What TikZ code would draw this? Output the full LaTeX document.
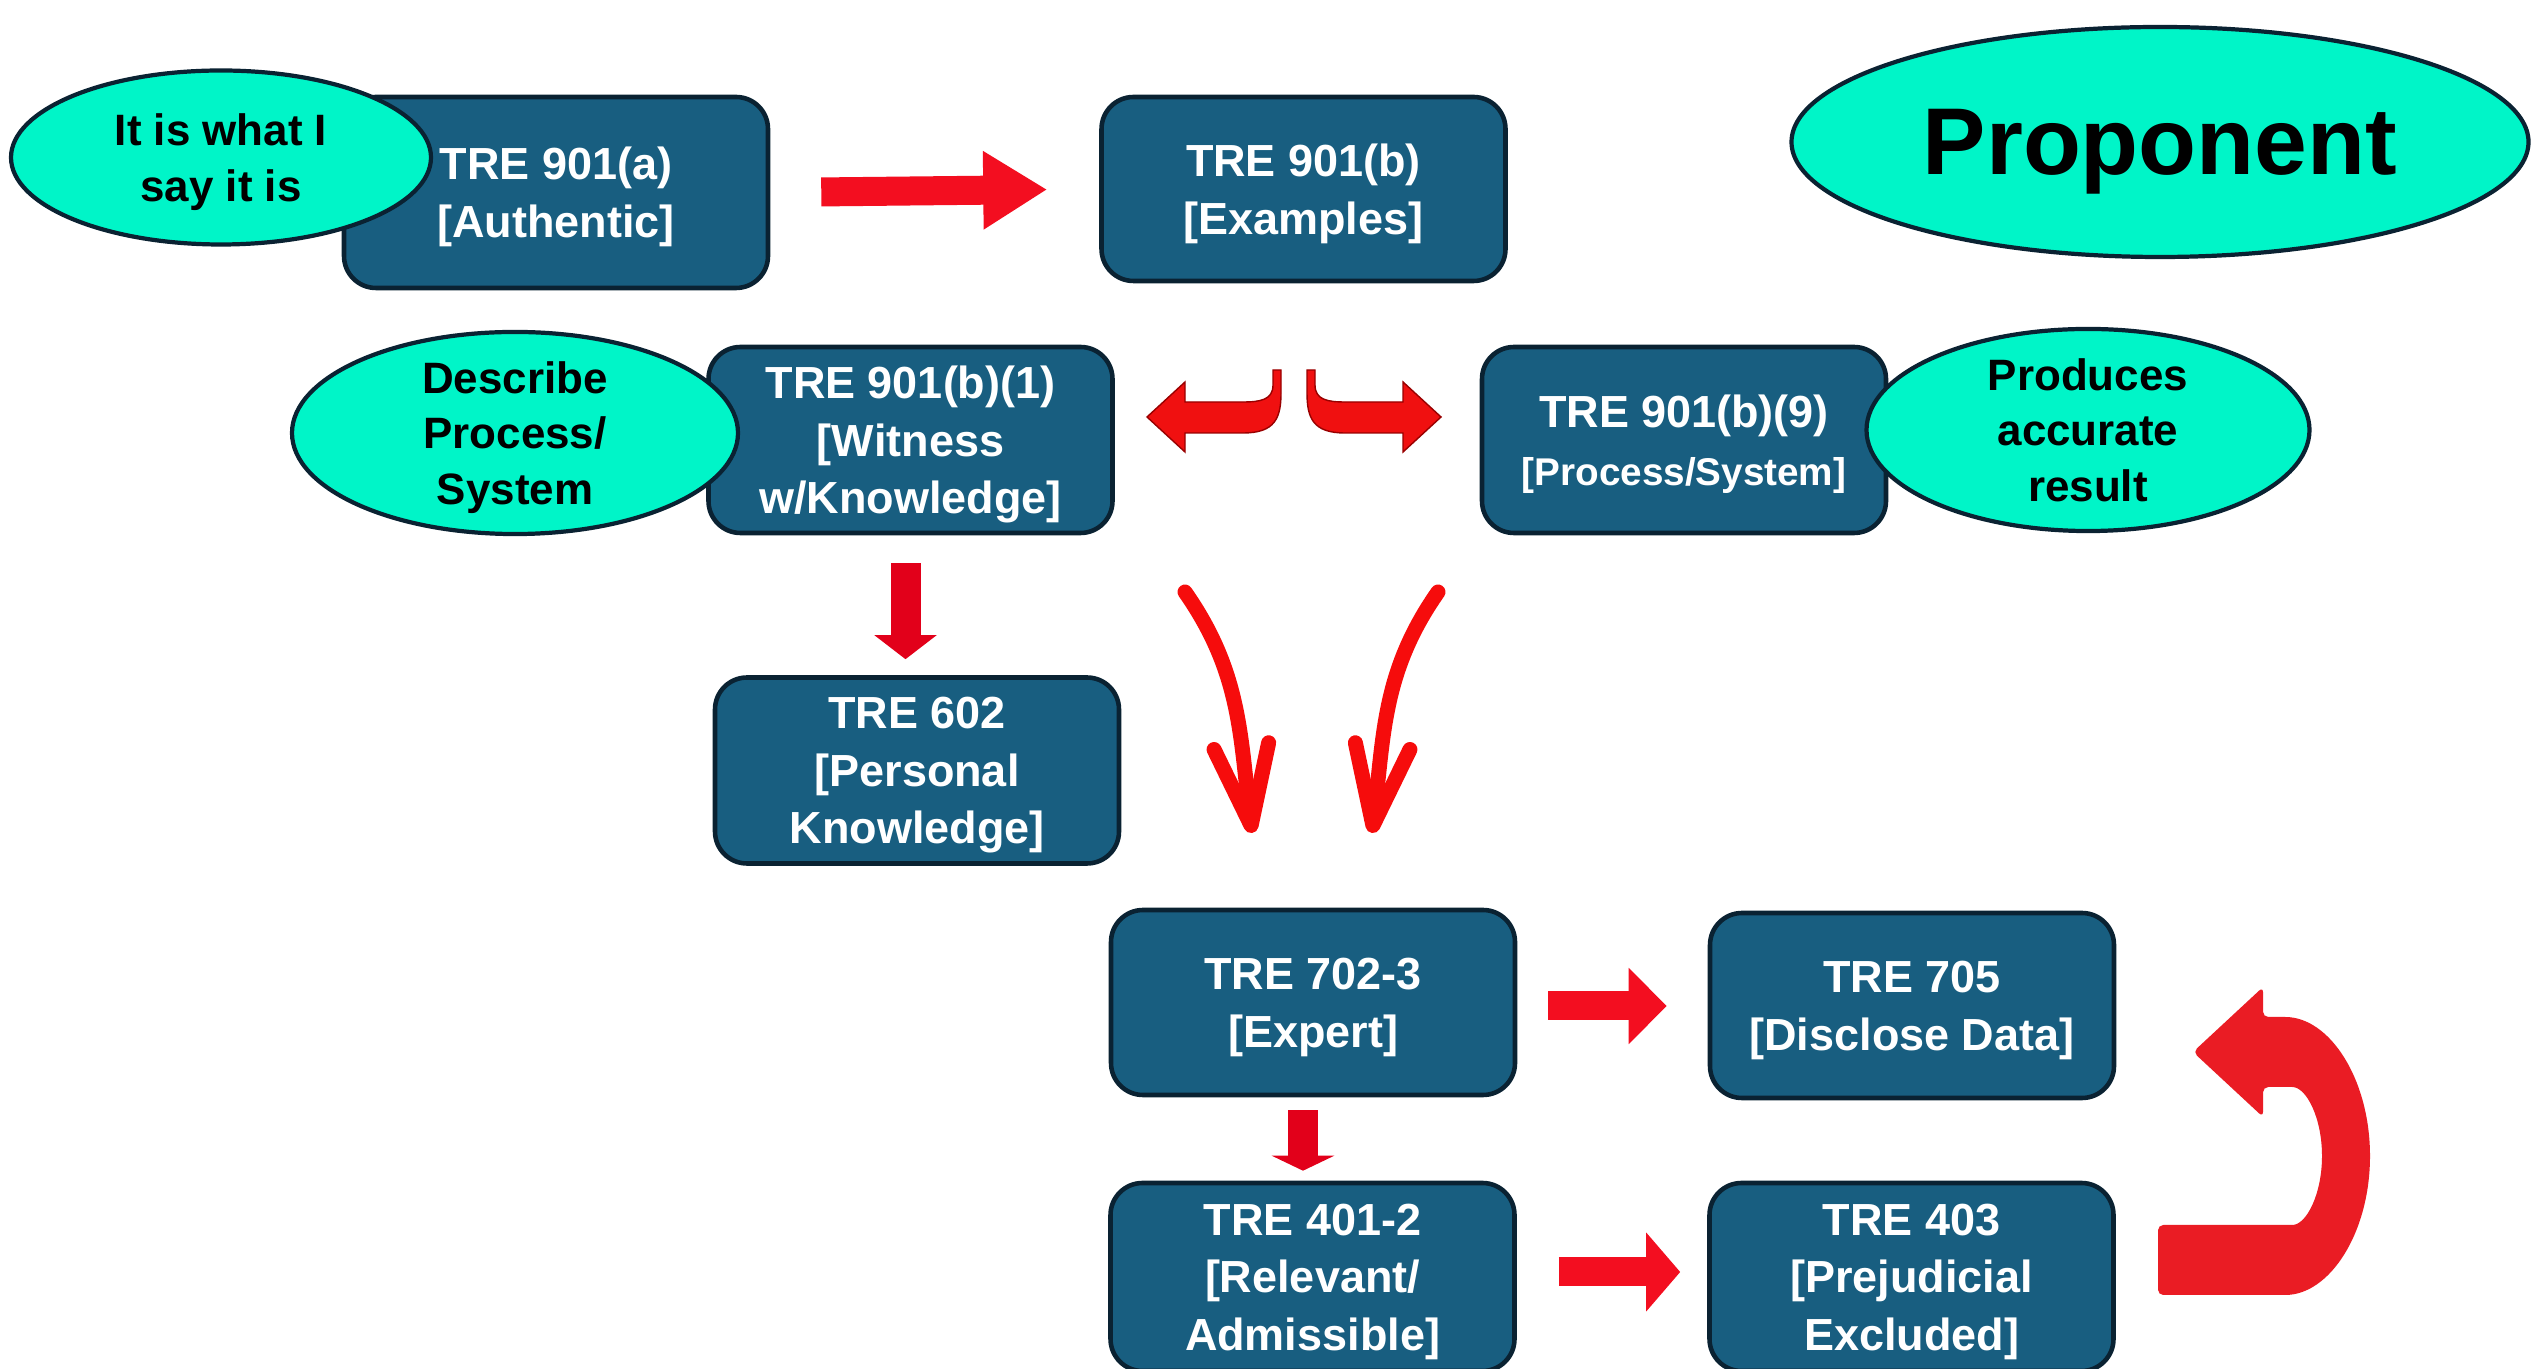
\documentclass[tikz,border=0pt]{standalone}
\usepackage{fontspec}
\setmainfont{Liberation Sans}
\usetikzlibrary{shapes.geometric, arrows.meta}
\definecolor{boxblue}{RGB}{24,94,128}
\definecolor{boxline}{RGB}{10,34,50}
\definecolor{aqua}{RGB}{0,245,200}
\definecolor{arrred}{RGB}{243,14,32}
\definecolor{downred}{RGB}{226,0,26}
\definecolor{curvred}{RGB}{246,12,12}
\definecolor{hookred}{RGB}{240,16,16}
\definecolor{turnred}{RGB}{234,28,36}
\tikzstyle{rulebox}=[draw=boxline, line width=1.3pt, fill=boxblue, rounded corners=0.32cm, minimum width=4.04cm, minimum height=1.86cm, align=center, text=white, text depth=0pt, font=\bfseries\fontsize{12.8}{16.4}\selectfont]
\tikzstyle{bubble}=[ellipse, draw=boxline, line width=1.2pt, fill=aqua, inner sep=0, align=center, text depth=0pt, font=\bfseries\fontsize{12.5}{15.8}\selectfont]
\tikzstyle{blockarr}=[draw=arrred, line width=0.29cm, -{Triangle[length=0.38cm, width=0.74cm]}]
\tikzstyle{downarr}=[draw=downred, line width=0.30cm, -{Triangle[length=0.24cm, width=0.61cm]}]
\tikzstyle{swoop}=[draw=curvred, line width=0.15cm, line cap=round, line join=round, -{Straight Barb[length=0.8cm, width=0.55cm, round]}]

\begin{document}
\begin{tikzpicture}
\useasboundingbox (0,0) rectangle (25.34,13.68);
\fill[white] (0,0) rectangle (25.34,13.68);
% rule boxes
\node[rulebox, minimum width=4.24cm, minimum height=1.91cm] (a901) at (5.56,11.755) {TRE 901(a)\\{[Authentic]}};
\node[rulebox, minimum height=1.84cm] (b901) at (13.035,11.79) {TRE 901(b)\\{[Examples]}};
\node[rulebox] (b1) at (9.105,9.28) {TRE 901(b)(1)\\{[Witness}\\w/Knowledge]};
\node[rulebox] (b9) at (16.84,9.28) {TRE 901(b)(9)\\{\fontsize{11}{14}\selectfont[Process/System]}};
\node[rulebox] (r602) at (9.17,5.975) {TRE 602\\{[Personal}\\Knowledge]};
\node[rulebox, minimum height=1.85cm] (r702) at (13.13,3.655) {TRE 702-3\\{[Expert]}};
\node[rulebox, minimum height=1.85cm] (r705) at (19.12,3.625) {TRE 705\\{[Disclose Data]}};
\node[rulebox, minimum height=1.88cm] (r401) at (13.125,0.91) {TRE 401-2\\{[Relevant/}\\Admissible]};
\node[rulebox, minimum height=1.88cm] (r403) at (19.115,0.91) {TRE 403\\{[Prejudicial}\\Excluded]};
% bubbles
\node[bubble, minimum width=4.2cm, minimum height=1.74cm] (say) at (2.21,12.105) {It is what I\\say it is};
\node[bubble, minimum width=7.37cm, minimum height=2.3cm, font=\bfseries\fontsize{27}{30}\selectfont] (prop) at (21.6,12.26) {Proponent};
\node[bubble, minimum width=4.46cm, minimum height=1.84cm] (desc) at (5.15,9.35) {Describe\\Process/\\System};
\node[bubble, minimum width=4.43cm, minimum height=1.91cm] (acc) at (20.88,9.38) {Produces\\accurate\\result};
% straight arrows
\draw[blockarr, -{Triangle[length=0.64cm, width=0.74cm]}, shorten <=0.51cm, shorten >=0.52cm] (a901.east) -- (b901.west);
\draw[blockarr, shorten <=0.31cm, shorten >=0.41cm] (r702.east|-0,3.62) -- (r705.west|-0,3.62);
\draw[blockarr, -{Triangle[length=0.34cm, width=0.77cm]}, shorten <=0.42cm, shorten >=0.27cm] (r401.east|-0,0.96) -- (r403.west|-0,0.96);
\draw[downarr, shorten <=0.28cm, shorten >=0.16cm] ([xshift=-0.05cm]b1.south) -- ([xshift=-0.05cm]b1.south|-r602.north);
\draw[downarr, -{Triangle[length=0.15cm, width=0.62cm]}, shorten <=0.13cm, shorten >=0.10cm] ([xshift=-0.1cm]r702.south) -- ([xshift=-0.1cm]r702.south|-r401.north);
% hooks out of 901(b)
\foreach \m/\dx in {1/0,-1/25.88} {
\begin{scope}[xshift=\dx cm, xscale=\m]
\fill[hookred, draw=red!60!black, line width=0.4pt] (12.73,9.98) -- (12.73,9.83) .. controls (12.73,9.68) and (12.60,9.66) .. (12.43,9.66) -- (11.85,9.66) -- (11.85,9.86) -- (11.47,9.51) -- (11.85,9.16) -- (11.85,9.35) -- (12.43,9.35) .. controls (12.75,9.35) and (12.81,9.50) .. (12.81,9.75) -- (12.81,9.98) -- cycle;
\end{scope}
}
% curved arrows down to 702-3
\coordinate (sl) at (11.85,7.76);
\coordinate (tl) at (12.52,5.35);
\coordinate (sr) at (14.38,7.76);
\coordinate (tr) at (13.72,5.35);
\draw[swoop] (sl) to[out=-55, in=97] (tl);
\draw[swoop] (sr) to[out=-125, in=83] (tr);
% turn back from 403 to 705
\fill[turnred, rounded corners=1.5pt] (21.93,3.16) -- (22.63,3.81) -- (22.63,3.51) -- (22.80,3.51) arc[start angle=90, end angle=-90, x radius=0.90, y radius=1.39] -- (21.58,0.73) -- (21.58,1.43) -- (22.87,1.43) arc[start angle=-90, end angle=90, x radius=0.35, y radius=0.69] -- (22.63,2.81) -- (22.63,2.51) -- cycle;
\end{tikzpicture}
\end{document}
